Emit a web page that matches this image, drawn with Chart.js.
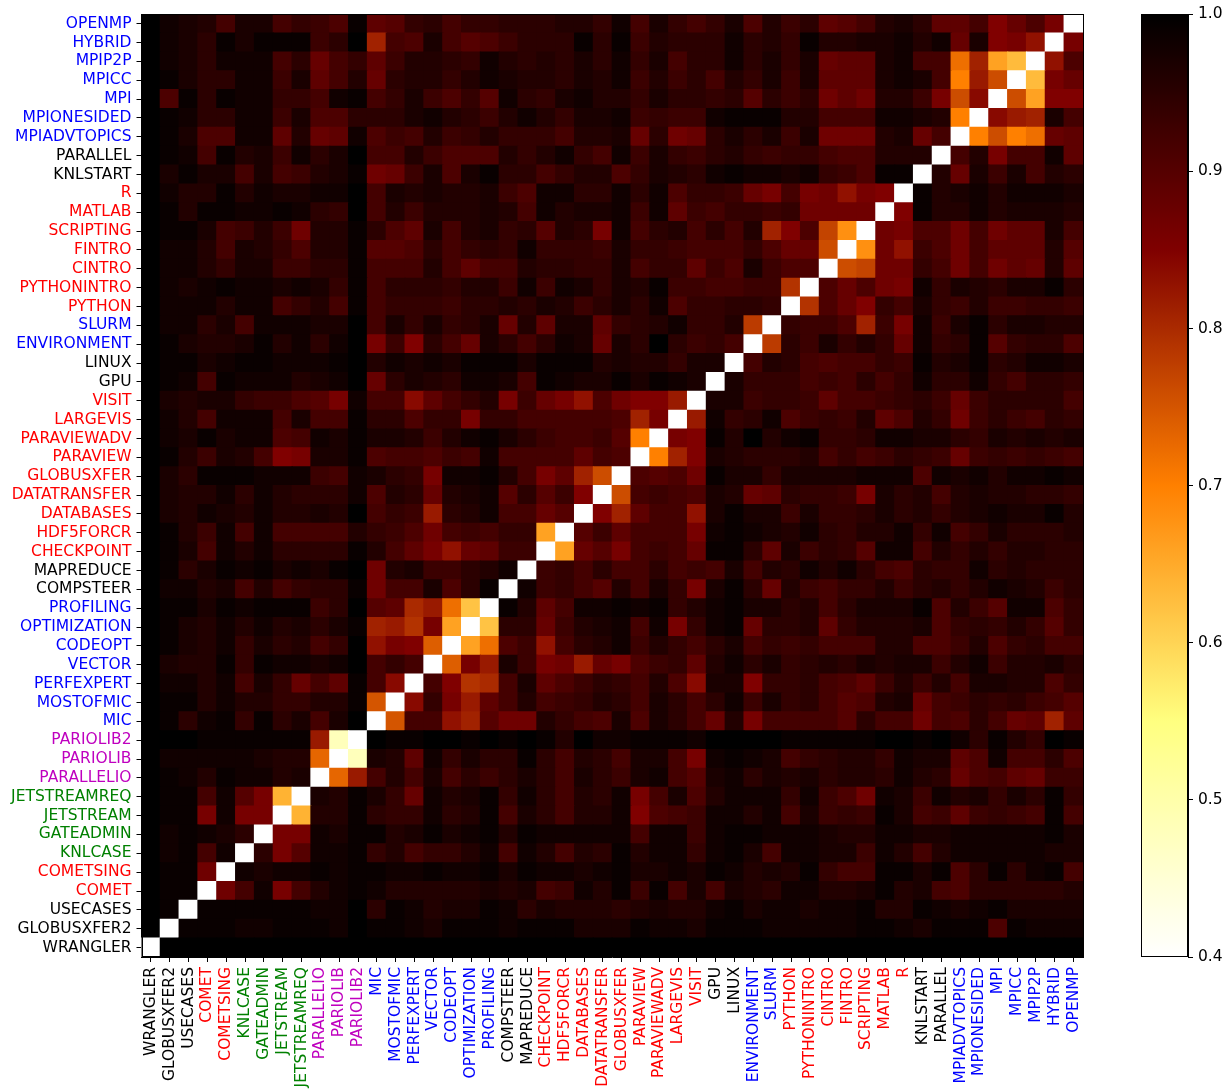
<!DOCTYPE html>
<html>
<head>
<meta charset="utf-8">
<title>Topic distance matrix</title>
<script src="https://cdn.jsdelivr.net/npm/chart.js@4.4.1/dist/chart.umd.min.js"></script>
<style>
  html, body { margin: 0; padding: 0; background: #fff; }
  #wrap { position: relative; width: 1230px; height: 1090px; overflow: hidden; }
  #heat { position: absolute; left: 0; top: 0; }
  #cbar { position: absolute; left: 1100px; top: 0; }
</style>
</head>
<body>
<div id="wrap">
  <canvas id="heat" width="1100" height="1090"></canvas>
  <canvas id="cbar" width="130" height="1090"></canvas>
</div>
<script>
// Topics, bottom-to-top on the y axis and left-to-right on the x axis
const topics = ['WRANGLER','GLOBUSXFER2','USECASES','COMET','COMETSING','KNLCASE','GATEADMIN','JETSTREAM','JETSTREAMREQ','PARALLELIO','PARIOLIB','PARIOLIB2','MIC','MOSTOFMIC','PERFEXPERT','VECTOR','CODEOPT','OPTIMIZATION','PROFILING','COMPSTEER','MAPREDUCE','CHECKPOINT','HDF5FORCR','DATABASES','DATATRANSFER','GLOBUSXFER','PARAVIEW','PARAVIEWADV','LARGEVIS','VISIT','GPU','LINUX','ENVIRONMENT','SLURM','PYTHON','PYTHONINTRO','CINTRO','FINTRO','SCRIPTING','MATLAB','R','KNLSTART','PARALLEL','MPIADVTOPICS','MPIONESIDED','MPI','MPICC','MPIP2P','HYBRID','OPENMP'];

// Topic group of every label (sets the label colour)
const topicGroups = ['k','k','k','r','r','g','g','g','g','m','m','m','b','b','b','b','b','b','b','k','k','r','r','r','r','r','r','r','r','r','k','k','b','b','r','r','r','r','r','r','r','k','k','b','b','b','b','b','b','b'];
const groupColors = { k: '#000000', r: '#ff0000', g: '#008000', m: '#bf00bf', b: '#0000ff' };

// Colour bar ticks
const colorbarTicks = [0.4, 0.5, 0.6, 0.7, 0.8, 0.9, 1.0];

// Pairwise distances in percent, lower triangle: row i holds columns 0..i-1
const distRows = [
  [],
  [100],
  [100,99],
  [100,99,99],
  [100,99,99,87],
  [100,98,99,92,98],
  [100,98,99,98,97,95],
  [100,99,99,86,98,86,86],
  [100,99,99,92,98,90,86,64],
  [100,99,98,96,99,98,98,96,97],
  [100,98,98,98,98,98,97,96,96,73],
  [100,100,100,99,99,99,99,99,99,82,48],
  [100,99,95,98,99,94,99,95,97,92,97,100],
  [100,99,99,96,98,96,96,94,94,96,96,99,75],
  [100,98,98,96,98,92,97,94,88,92,89,99,92,84],
  [100,97,96,96,99,94,99,98,98,97,98,100,92,94,92],
  [100,99,97,96,98,94,97,95,96,92,94,100,83,86,85,74],
  [100,99,97,96,98,96,98,96,97,95,97,99,81,82,79,86,66],
  [100,99,99,97,99,98,99,99,99,93,95,100,90,89,80,82,72,62],
  [100,98,98,96,97,92,96,92,94,95,95,99,87,92,92,97,91,95,99],
  [100,99,95,97,99,98,99,97,98,97,99,100,87,96,97,93,93,95,96,98],
  [100,99,97,92,98,96,98,95,95,95,95,99,96,92,89,86,83,88,89,93,93],
  [100,99,96,93,98,92,98,92,92,92,92,96,94,93,91,87,92,93,92,94,94,66],
  [100,97,96,98,97,96,98,96,96,97,96,100,92,94,93,82,95,96,98,92,92,88,90],
  [100,97,96,96,98,95,98,96,95,95,95,98,91,96,95,88,96,97,98,90,95,90,93,85],
  [100,97,95,99,99,99,98,98,98,93,92,98,97,95,94,86,98,98,99,96,92,86,89,81,76],
  [100,99,96,93,97,96,92,85,86,97,97,99,91,92,92,91,93,92,98,92,92,92,92,89,92,91],
  [100,98,97,99,97,98,98,91,92,98,97,99,97,97,96,93,96,98,99,97,95,93,92,92,93,90,70],
  [100,98,96,92,98,98,98,92,97,92,92,99,95,95,91,94,94,86,94,94,92,92,92,92,92,91,81,86],
  [100,97,96,97,97,94,93,93,91,90,86,98,92,92,84,89,92,94,96,86,93,88,86,83,91,87,85,85,82],
  [100,99,98,92,99,98,98,98,96,97,98,100,88,95,97,96,95,98,98,97,92,99,98,97,97,99,97,99,98,97],
  [100,99,99,97,98,99,99,98,98,98,99,100,96,98,97,98,97,99,99,99,97,99,99,99,96,97,96,96,94,97,97],
  [100,99,97,96,96,97,99,96,98,95,98,100,86,93,85,95,92,88,97,95,92,95,98,97,88,97,95,100,95,93,94,92],
  [100,98,98,95,97,92,98,98,98,97,97,100,92,97,94,97,94,95,97,88,96,89,97,97,89,94,95,96,98,94,94,96,78],
  [100,98,98,98,96,98,98,92,94,96,92,99,92,94,94,94,93,95,95,96,95,97,96,93,95,97,95,98,91,94,94,95,95,94],
  [100,98,97,98,99,98,98,97,98,97,94,99,92,95,95,95,94,96,96,93,98,93,98,97,94,97,96,99,93,93,92,92,93,93,79],
  [100,98,98,96,94,97,97,93,93,95,95,99,92,92,92,96,92,89,92,92,96,95,95,94,94,97,92,94,94,89,93,91,97,93,91,91],
  [100,98,98,96,92,97,96,94,91,96,96,99,90,90,91,95,92,94,95,94,98,94,94,94,93,97,94,94,93,92,92,92,94,91,88,88,76],
  [100,99,99,97,92,93,96,93,87,96,96,99,95,91,89,97,92,96,97,94,95,90,96,95,86,98,92,95,96,92,95,92,96,81,85,91,77,68],
  [100,99,96,99,99,98,98,99,98,95,94,100,92,96,93,96,96,96,97,96,92,98,96,97,97,98,93,98,89,93,92,94,94,93,94,87,87,87,87],
  [100,98,96,96,99,96,98,97,97,98,98,100,92,97,96,97,96,96,97,93,91,98,98,95,95,98,95,98,91,94,94,93,88,86,92,86,87,83,86,85],
  [100,97,99,97,97,92,97,92,93,96,97,99,87,88,93,97,91,97,99,95,95,92,94,96,96,91,94,97,96,95,98,99,98,98,97,98,94,93,91,99,99],
  [100,99,98,92,99,96,97,93,98,95,97,100,92,92,96,93,91,91,91,96,94,96,98,94,92,98,93,97,94,93,95,96,94,93,94,94,92,91,91,96,96,96],
  [100,99,97,91,91,98,98,89,96,88,89,98,91,93,92,96,93,94,96,94,94,94,92,96,96,97,88,95,87,88,95,97,95,97,93,97,87,87,87,96,97,88,92],
  [100,99,98,95,95,98,98,93,97,91,91,95,95,95,97,98,96,95,93,96,98,96,94,97,97,98,93,94,93,93,98,99,99,99,96,96,92,92,92,98,98,97,96,70],
  [100,91,99,95,99,98,98,94,94,92,98,99,92,94,97,93,91,94,90,98,95,94,97,98,96,96,94,97,95,95,94,95,90,95,93,95,87,89,87,96,96,93,86,76,84],
  [100,99,97,95,95,98,98,93,97,89,92,96,88,95,96,96,94,96,98,97,96,96,95,97,96,98,93,96,93,95,92,96,94,97,93,97,89,89,89,97,98,97,92,70,82,76],
  [100,98,97,95,98,98,98,92,95,88,92,94,89,93,96,96,95,94,98,96,95,96,95,97,95,98,94,97,92,95,95,98,95,97,94,97,88,89,89,97,98,92,92,72,81,66,63],
  [100,98,97,95,99,97,99,99,99,93,95,100,81,92,91,97,92,90,91,93,95,95,95,99,95,99,93,96,95,95,95,98,95,96,94,99,96,96,97,97,98,96,98,88,97,85,86,83],
  [100,98,97,96,92,97,97,92,94,93,91,99,89,90,94,95,92,94,94,95,95,95,96,96,94,98,92,97,94,92,94,97,91,96,93,95,89,90,92,96,97,95,89,89,92,85,88,91,86]
];

const VMIN = 0.4, VMAX = 1.0;
const FONT = { family: "'DejaVu Sans', sans-serif", size: 15.5 };

// Reversed "afmhot" colour map: white at VMIN, black at VMAX
function afmhotR(v) {
  const clamp = (a) => Math.max(0, Math.min(1, a));
  const t = clamp((v - VMIN) / (VMAX - VMIN));
  const x = 1 - t;
  const r = clamp(2 * x), g = clamp(2 * x - 0.5), b = clamp(2 * x - 1);
  return `rgb(${Math.round(r * 255)},${Math.round(g * 255)},${Math.round(b * 255)})`;
}

// Symmetric lookup; the diagonal is zero distance
function distance(i, j) {
  if (i === j) return 0;
  const row = j < i ? distRows[i] : distRows[j];
  const col = j < i ? j : i;
  const val = row[col];
  return (val === undefined ? 100 : val) / 100;
}

const labelColor = (idx) => groupColors[topicGroups[idx]] || '#000';

// Black outline around the plotting area
const frame = {
  id: 'frame',
  afterDraw(chart) {
    const { ctx, chartArea: a } = chart;
    ctx.save();
    ctx.strokeStyle = '#000';
    ctx.lineWidth = 1;
    ctx.strokeRect(Math.round(a.left) + 0.5, Math.round(a.top) + 0.5,
                   Math.round(a.right - a.left) - 1, Math.round(a.bottom - a.top) - 1);
    ctx.restore();
  }
};

// One floating-bar dataset per matrix row; each bar spans one row band
const heatDatasets = topics.map((_, i) => ({
  data: topics.map(() => [i, i + 1]),
  backgroundColor: topics.map((__, j) => afmhotR(distance(i, j))),
  borderWidth: 0,
  inflateAmount: 0.6,
  barPercentage: 1,
  categoryPercentage: 1,
  grouped: false
}));

const tickGrid = { drawOnChartArea: false, drawTicks: true, tickLength: 5, color: '#000', tickColor: '#000', tickWidth: 1 };

new Chart(document.getElementById('heat'), {
  type: 'bar',
  data: { labels: topics, datasets: heatDatasets },
  options: {
    responsive: false,
    animation: false,
    devicePixelRatio: 1,
    events: [],
    layout: { padding: { left: 0, top: 12, right: 17, bottom: 0 } },
    plugins: { legend: { display: false }, tooltip: { enabled: false } },
    scales: {
      x: {
        type: 'category',
        offset: true,
        grid: Object.assign({ offset: false }, tickGrid),
        border: { display: true, color: '#000', width: 1 },
        ticks: {
          autoSkip: false, maxRotation: 90, minRotation: 90, padding: 5,
          font: FONT,
          color: (ctx) => labelColor(ctx.index)
        },
        afterFit: (s) => { s.height = 133; }
      },
      y: {
        type: 'linear',
        min: 0, max: topics.length,
        afterBuildTicks: (s) => { s.ticks = topics.map((__, i) => ({ value: i + 0.5 })); },
        grid: tickGrid,
        border: { display: true, color: '#000', width: 1 },
        ticks: {
          autoSkip: false, padding: 5,
          font: FONT,
          callback: (v, idx) => topics[idx],
          color: (ctx) => labelColor(ctx.index)
        },
        afterFit: (s) => { s.width = 141.5; }
      }
    }
  },
  plugins: [frame]
});

// Colour bar: one floating bar filled with the colour map gradient
function colorbarFill(ctx) {
  const chart = ctx.chart;
  const y = chart.scales && chart.scales.y;
  if (!y || !chart.chartArea) return afmhotR(0.9);
  const g = chart.ctx.createLinearGradient(0, y.getPixelForValue(VMIN), 0, y.getPixelForValue(VMAX));
  const steps = 120;
  for (let k = 0; k <= steps; k++) {
    g.addColorStop(k / steps, afmhotR(VMIN + (VMAX - VMIN) * k / steps));
  }
  return g;
}

const cbar = new Chart(document.getElementById('cbar'), {
  type: 'bar',
  data: {
    labels: [''],
    datasets: [{
      data: [[VMIN, VMAX]],
      backgroundColor: colorbarFill,
      borderWidth: 0,
      barPercentage: 1,
      categoryPercentage: 1
    }]
  },
  options: {
    responsive: false,
    animation: false,
    devicePixelRatio: 1,
    events: [],
    layout: { padding: { left: 41, top: 12, right: 0, bottom: 133 } },
    plugins: { legend: { display: false }, tooltip: { enabled: false } },
    scales: {
      x: { display: false, offset: true },
      y: {
        type: 'linear',
        position: 'right',
        min: VMIN, max: VMAX,
        afterBuildTicks: (s) => { s.ticks = colorbarTicks.map((v) => ({ value: v })); },
        grid: tickGrid,
        border: { display: true, color: '#000', width: 1 },
        ticks: {
          padding: 5,
          font: FONT,
          color: '#000',
          callback: (v) => Number(v).toFixed(1)
        },
        afterFit: (s) => { s.width = 42; }
      }
    }
  },
  plugins: [frame]
});
cbar.update();

// Each stored row must hold exactly as many values as its index
distRows.forEach((row, i) => {
  if (row.length !== i) console.error('distRows[' + i + '] has ' + row.length + ' values');
});
</script>
</body>
</html>
